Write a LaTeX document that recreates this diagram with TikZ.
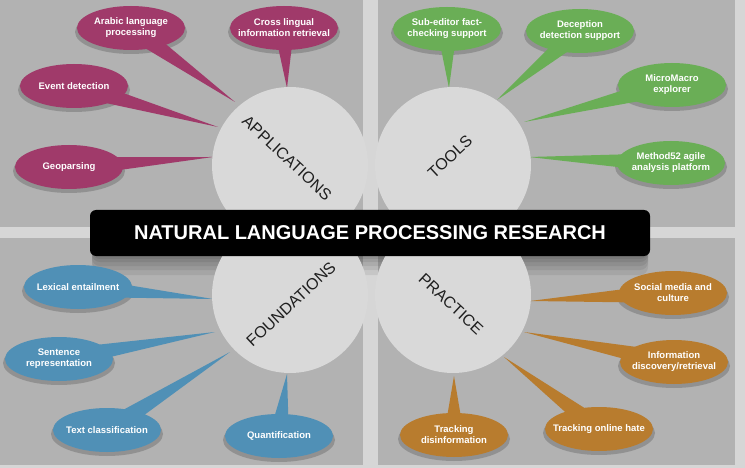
\documentclass[tikz,border=0pt]{standalone}
\usepackage{fontspec}
\setmainfont{Liberation Sans}
\usetikzlibrary{calc}
\definecolor{quad}{RGB}{178,178,178}
\definecolor{strip}{RGB}{214,214,214}
\definecolor{circ}{RGB}{217,217,217}
\definecolor{mag}{RGB}{160,58,106}
\definecolor{grn}{RGB}{106,174,86}
\definecolor{blu}{RGB}{80,144,182}
\definecolor{org}{RGB}{184,124,46}
\pgfdeclarelayer{bg}
\pgfdeclarelayer{tails}
\pgfsetlayers{bg,tails,main}
\newcommand\mybub[5]{%
  \coordinate (#1) at (#2);
  \coordinate (#1t) at (#3);
  \begin{pgfonlayer}{tails}
    \fill[black,opacity=0.18] ($(#1)+(0,4)$) ellipse [x radius=56pt, y radius=22pt];
    \fill[#4] ($(#1)!10pt!90:(#1t)$) -- (#1t) -- ($(#1)!10pt!-90:(#1t)$) -- cycle;
  \end{pgfonlayer}
  \fill[#4] (#1) ellipse [x radius=54pt, y radius=22pt];
  \node[bubtext] (#1l) at (#1) {#5};
}
\begin{document}
\begin{tikzpicture}[x=1pt,y=-1pt,
  bubtext/.style={text=white,font=\fontsize{9.5}{11}\selectfont\bfseries,align=center,inner sep=0pt},
  hub/.style={circle,fill=circ,minimum size=156pt,inner sep=0pt},
  hublabel/.style={font=\fontsize{16}{16}\selectfont,text=black!88,inner sep=0pt},
  banner/.style={fill=black,rounded corners=6pt,minimum width=560pt,minimum height=46pt,text=white,font=\fontsize{20}{20}\selectfont\bfseries,inner sep=0pt}]
\useasboundingbox (0,0) rectangle (745,468);
\begin{pgfonlayer}{bg}
\fill[strip] (0,0) rectangle (745,468);
\fill[quad] (0,0) rectangle (363,227);
\fill[quad] (378,0) rectangle (735,227);
\fill[quad] (0,238) rectangle (363,465);
\fill[quad] (378,238) rectangle (735,465);
\end{pgfonlayer}
\begin{pgfonlayer}{tails}
\foreach \e in {3,6,10,14,19}{
  \fill[black,opacity=0.07,rounded corners=8pt] (92,214) rectangle (648,256+\e);
}
\end{pgfonlayer}
% hubs
\node[hub] (app) at (290,165) {};
\node[hub] (tools) at (453,165) {};
\node[hub] (found) at (290,295) {};
\node[hub] (prac) at (453,295) {};
\node[hublabel,rotate=-43] (appl) at (287,158) {APPLICATIONS};
\node[hublabel,rotate=43] (toolsl) at (450,157) {TOOLS};
\node[hublabel,rotate=43] (foundl) at (291,304) {FOUNDATIONS};
\node[hublabel,rotate=-43] (pracl) at (451,304) {PRACTICE};
% banner
\node[banner] (title) at (370,233) {NATURAL LANGUAGE PROCESSING RESEARCH};
% applications
\mybub{a1}{131,28}{235,102}{mag}{Arabic language\\processing}
\mybub{a2}{284,28}{287,88}{mag}{Cross lingual\\information retrieval}
\mybub{a3}{74,86}{218,127}{mag}{Event detection}
\mybub{a4}{69,167}{213,157}{mag}{Geoparsing}
% tools
\mybub{t1}{447,29}{449,88}{grn}{Sub-editor fact-\\checking support}
\mybub{t2}{580,31}{497,100}{grn}{Deception\\detection support}
\mybub{t3}{672,85}{524,122}{grn}{MicroMacro\\explorer}
\mybub{t4}{671,163}{529,157}{grn}{Method52 agile\\analysis platform}
% foundations
\mybub{f1}{78,287}{213,299}{blu}{Lexical entailment}
\mybub{f2}{59,359}{215,332}{blu}{Sentence\\representation}
\mybub{f3}{107,430}{230,352}{blu}{Text classification}
\mybub{f4}{279,436}{287,374}{blu}{Quantification}
% practice
\mybub{p1}{673,293}{530,301}{org}{Social media and\\culture}
\mybub{p2}{674,362}{524,332}{org}{Information\\discovery/retrieval}
\mybub{p3}{599,429}{504,357}{org}{Tracking online hate}
\mybub{p4}{454,435}{454,376}{org}{Tracking\\disinformation}
\end{tikzpicture}
\end{document}
